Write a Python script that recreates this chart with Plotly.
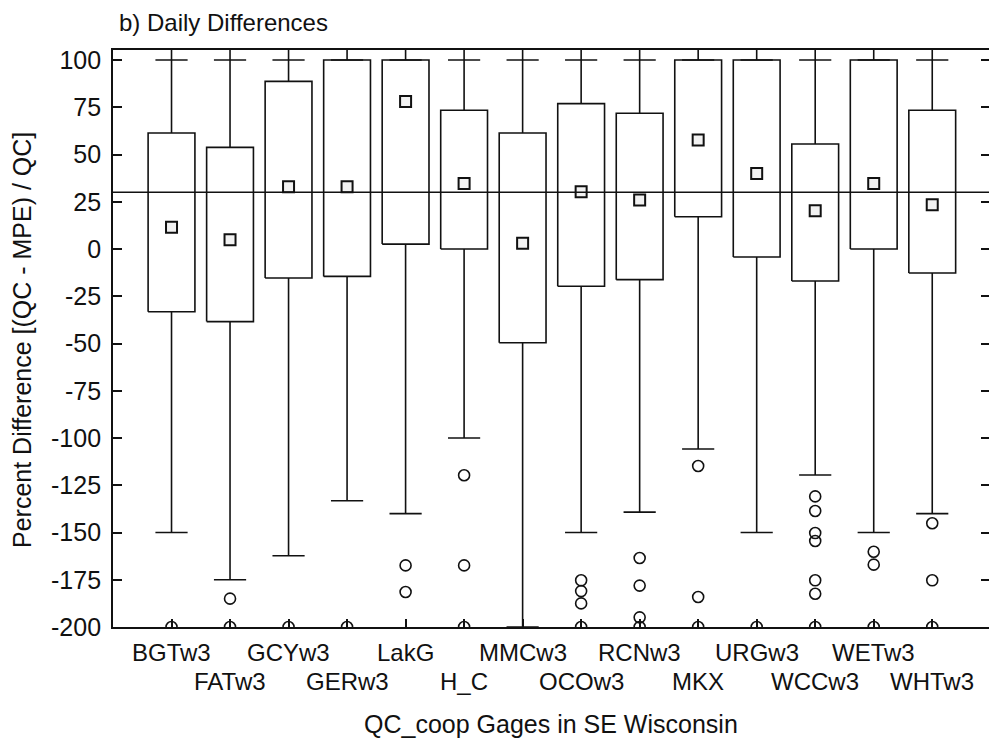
import plotly.graph_objects as go

# Gage names along the x axis
gages = ["BGTw3", "FATw3", "GCYw3", "GERw3", "LakG", "H_C", "MMCw3",
         "OCOw3", "RCNw3", "MKX", "URGw3", "WCCw3", "WETw3", "WHTw3"]

# Box statistics (percent difference)
q3 = [61.4, 53.8, 88.7, 100, 100, 73.4, 61.4, 76.9, 71.8, 100, 100, 55.6, 100, 73.4]
q1 = [-33.2, -38.4, -15.3, -14.5, 2.6, 0.0, -49.6, -19.7, -16.2, 17.1, -4.2, -16.9, 0.0, -12.7]
means = [11.5, 4.9, 33.0, 33.0, 78.1, 34.6, 3.0, 30.3, 25.9, 57.7, 39.9, 20.3, 34.6, 23.4]
whisker_lo = [-150, -175, -162.3, -133.2, -140, -100, -200, -150, -139.2, -105.8,
              -150, -119.6, -150, -140]
whisker_hi = [100, 100, 100, 100, 100, 100, 100, 100, 100, 100, 100, 100, 100, 100]

# Outlying values per gage
outliers = [
    [-200],
    [-185, -200],
    [-200],
    [-200],
    [-167.4, -181.5],
    [-119.7, -167.4, -200],
    [],
    [-175.3, -181.0, -187.5, -200],
    [-163.5, -178.1, -194.9, -200],
    [-114.8, -184.1, -200],
    [-200],
    [-130.9, -138.6, -150.3, -154.5, -175.3, -182.4, -200],
    [-160.2, -167.0, -200],
    [-145.1, -175.3, -200],
]

ref_level = 30
y_ticks = [100, 75, 50, 25, 0, -25, -50, -75, -100, -125, -150, -175, -200]
y_tick_text = [str(v) for v in y_ticks]

Y_MIN, Y_MAX = -200, 105.3
X_MIN, X_MAX = 0, 14.97
BOX_HALF = 0.40
CAP_HALF = 0.275
INK = "#111111"
FONT = "Liberation Sans, Arial, sans-serif"

pos = list(range(1, len(gages) + 1))

# Box outlines
bx, by = [], []
for p, lo, hi in zip(pos, q1, q3):
    bx += [p - BOX_HALF, p + BOX_HALF, p + BOX_HALF, p - BOX_HALF, p - BOX_HALF, None]
    by += [lo, lo, hi, hi, lo, None]

# Whisker stems and caps
wx, wy = [], []
for p, lo, b_lo, b_hi, hi in zip(pos, whisker_lo, q1, q3, whisker_hi):
    wx += [p, p, None, p - CAP_HALF, p + CAP_HALF, None]
    wy += [b_lo, lo, None, lo, lo, None]
    wx += [p, p, None, p - CAP_HALF, p + CAP_HALF, None]
    wy += [b_hi, Y_MAX, None, hi, hi, None]

# Outlier markers
ox, oy = [], []
for p, vals in zip(pos, outliers):
    ox += [p] * len(vals)
    oy += vals

fig = go.Figure()
fig.add_trace(go.Scatter(x=wx, y=wy, mode="lines",
                         line=dict(color=INK, width=1.6), hoverinfo="skip"))
fig.add_trace(go.Scatter(x=bx, y=by, mode="lines",
                         line=dict(color=INK, width=1.6), hoverinfo="skip"))
fig.add_trace(go.Scatter(x=ox, y=oy, mode="markers",
                         marker=dict(symbol="circle-open", size=11,
                                     color=INK, line=dict(width=1.6))))
fig.add_trace(go.Scatter(x=pos, y=means, mode="markers",
                         marker=dict(symbol="square", size=11, color="#f2f2f2",
                                     line=dict(color=INK, width=2))))
# mirrored tick marks on the right edge
fig.add_trace(go.Scatter(x=[None], y=[None], yaxis="y2", showlegend=False))

fig.add_shape(type="line", xref="paper", x0=0, x1=1, yref="y",
              y0=ref_level, y1=ref_level, line=dict(color=INK, width=1.6),
              layer="above")

# Gage labels in two staggered rows
for i, (p, name) in enumerate(zip(pos, gages)):
    fig.add_annotation(x=p, xref="x", y=0, yref="paper", text=name,
                       showarrow=False, yanchor="middle",
                       yshift=-25 if i % 2 == 0 else -54,
                       font=dict(family=FONT, size=24, color=INK))

fig.add_annotation(x=0.5, xref="paper", y=0, yref="paper",
                   text="QC_coop Gages in SE Wisconsin", showarrow=False,
                   yanchor="middle", yshift=-97,
                   font=dict(family=FONT, size=25, color=INK))
fig.add_annotation(x=0, xref="paper", y=(337 - 50) / 577, yref="paper",
                   text="Percent Difference [(QC - MPE) / QC]", showarrow=False,
                   textangle=-90, xanchor="center", yanchor="middle",
                   xshift=-91, font=dict(family=FONT, size=25, color=INK))
fig.add_annotation(x=0, xref="paper", y=1, yref="paper",
                   text="b) Daily Differences", showarrow=False,
                   xanchor="left", yanchor="middle", xshift=4, yshift=28,
                   font=dict(family=FONT, size=24, color=INK))

fig.update_layout(
    width=989, height=738,
    margin=dict(l=113, r=0, t=50, b=111),
    paper_bgcolor="white", plot_bgcolor="white",
    showlegend=False,
    xaxis=dict(range=[X_MIN, X_MAX], tickvals=pos, showticklabels=False,
               ticks="inside", ticklen=8, tickwidth=1.6, tickcolor=INK,
               showline=True, linecolor=INK, linewidth=1.8, mirror=True,
               showgrid=False, zeroline=False, fixedrange=True),
    yaxis=dict(range=[Y_MIN, Y_MAX], tickvals=y_ticks, ticktext=y_tick_text,
               ticks="inside", ticklen=9, tickwidth=1.6, tickcolor=INK,
               showline=True, linecolor=INK, linewidth=1.8,
               ticklabelstandoff=5,
               tickfont=dict(family=FONT, size=25, color=INK),
               showgrid=False, zeroline=False, fixedrange=True),
    yaxis2=dict(range=[Y_MIN, Y_MAX], tickvals=y_ticks, overlaying="y",
                side="right", ticks="inside", ticklen=8, tickwidth=1.6,
                tickcolor=INK, showticklabels=False, showline=False,
                showgrid=False, zeroline=False, fixedrange=True),
)

fig.write_html("out.html", config={"displayModeBar": False})
